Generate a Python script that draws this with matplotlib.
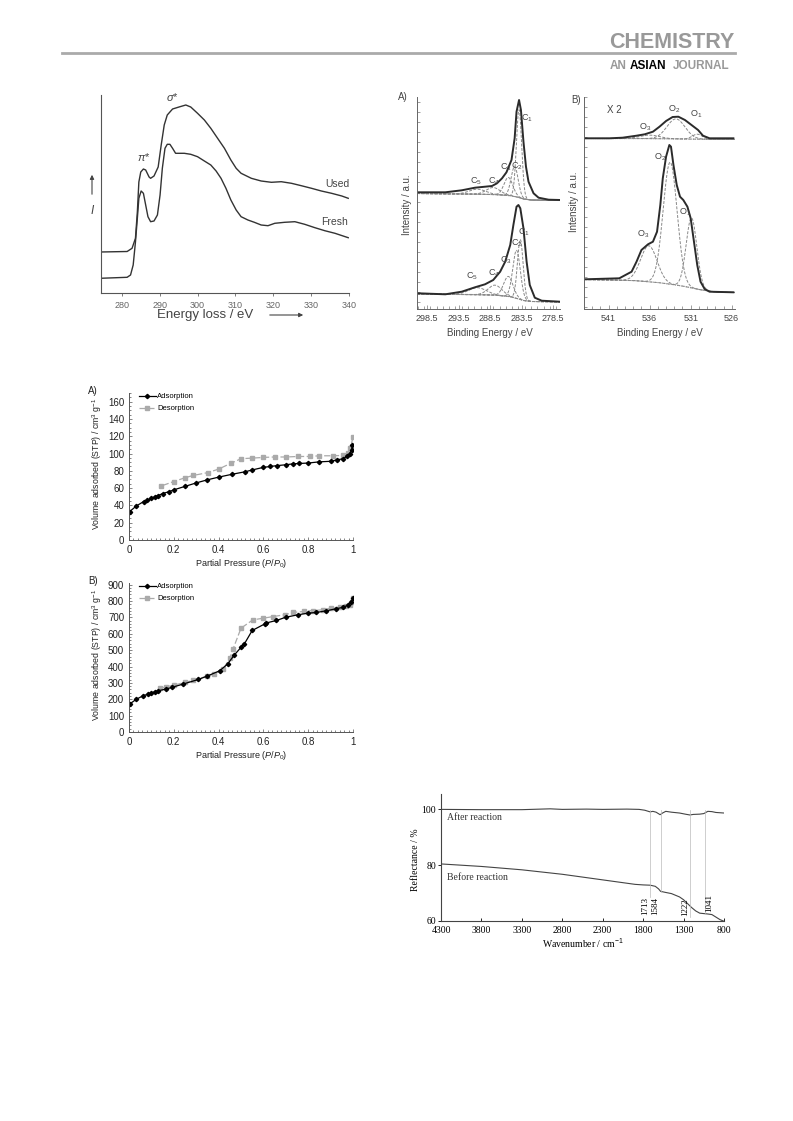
import numpy as np
import matplotlib.pyplot as plt
from matplotlib.ticker import MultipleLocator, FixedLocator

W, H = 793, 1121
SANS = ["Liberation Sans", "DejaVu Sans"]
SERIF = ["Liberation Serif", "DejaVu Serif"]
plt.rcParams["font.family"] = SANS
plt.rcParams["mathtext.fontset"] = "custom"
plt.rcParams["mathtext.rm"] = "Liberation Sans"
plt.rcParams["mathtext.it"] = "Liberation Sans:italic"

TXT = "#444444"
LINE = "#333333"

# ---- EELS (energy loss, eV / intensity a.u.) ----
eels_used_e = [274.3, 281.4, 282.7, 283.6, 284.1, 284.5, 285.0, 285.7, 286.3, 287.2, 287.6, 288.5,
               289.6, 290.4, 291.2, 292.0, 293.4, 295.1, 296.9, 298.2, 300.0, 301.8, 303.5, 305.3,
               307.1, 308.8, 310.2, 311.5, 314.2, 316.8, 319.5, 322.1, 324.8, 327.4, 330.1, 332.7,
               335.4, 338.1, 339.8]
eels_used = [41, 41.5, 44.7, 54.7, 81, 111, 121, 124, 123, 116, 114.7, 117,
             126, 148, 168, 178, 184, 186, 188, 186, 179.7, 173, 164.7, 154.7,
             144.7, 133, 124.7, 119.7, 114.7, 112, 110.7, 111.3, 109.7, 107.3, 104.7, 102,
             99.7, 97, 94.7]
eels_fresh_e = [274.3, 281.4, 282.3, 283.0, 283.6, 284.1, 284.5, 285.1, 285.7, 286.3, 286.9, 287.6,
                288.5, 289.4, 290.1, 290.7, 291.4, 292.0, 292.7, 293.4, 294.2, 296.5, 298.2, 300.0,
                301.8, 303.5, 304.9, 306.2, 307.5, 308.8, 310.2, 311.5, 313.3, 315.0, 316.8, 318.6,
                320.4, 323.0, 325.7, 328.3, 331.0, 333.6, 336.3, 339.8]
eels_fresh = [14.7, 15.7, 18, 28, 51, 74.7, 94.7, 102, 99.7, 88, 76.3, 71.3,
              72, 78, 98, 124.7, 144.7, 148.7, 148.7, 144.7, 139.7, 139.7, 138.7, 136.3,
              132, 128, 122, 114.7, 104.7, 93, 83, 76.3, 73, 70.7, 68, 67.3,
              69.7, 70.7, 71.3, 68.7, 65.3, 62.3, 59.7, 55.3]

# ---- XPS C1s ----
c_env_top_x = [300.1, 295.6, 293.0, 290.9, 289.3, 288.2, 287.4, 286.6, 285.9, 285.1, 284.6, 284.3,
               283.9, 283.6, 283.2, 282.8, 282.4, 281.6, 280.8, 279.2, 277.4]
c_env_top = [109.7, 109.7, 111.7, 114.3, 115.3, 116, 118.7, 123.7, 129.7, 142, 163.7, 190.3,
             202, 192, 160.3, 135.3, 120.3, 108.7, 104.3, 102.3, 102]
c_env_bot_x = [299.9, 295.6, 293.0, 290.9, 289.3, 288.0, 286.9, 286.1, 285.3, 284.8, 284.3, 284.0,
               283.7, 283.2, 282.7, 282.2, 281.4, 280.3, 277.4]
c_env_bot = [8.7, 7.7, 10.3, 14.7, 17.7, 22, 30.3, 40.3, 57, 77, 95.3, 97,
             93.7, 73.7, 40.3, 17, 4.3, 1.3, 0.3]
c_bg_x = [300.1, 292.0, 288.0, 285.5, 284.2, 283.2, 282.0, 277.4]
c_bg_top = [108.5, 108, 107.5, 106.5, 105, 103, 102, 101.5]
c_bg_bot = [8, 7.5, 7, 5.5, 3.5, 1.5, 0.5, 0.2]
# fitted components: centre (eV), height, sigma
c_top_centres = [283.9, 284.6, 285.6, 288.0, 290.5]
c_top_heights = [88, 30, 18, 7, 5]
c_top_sigmas = [0.42, 0.55, 0.7, 1.1, 1.3]
c_bot_centres = [283.7, 284.3, 285.6, 287.7, 290.5]
c_bot_heights = [60, 48, 20, 10, 7]
c_bot_sigmas = [0.45, 0.6, 0.75, 1.1, 1.4]
c_labels = ["C$_1$", "C$_2$", "C$_3$", "C$_4$", "C$_5$"]
c_top_lab = [(282.7, 184), (284.3, 136), (286.0, 135), (287.9, 121), (290.7, 121)]
c_bot_lab = [(283.1, 70), (284.3, 59), (286.0, 42), (287.8, 29), (291.3, 26)]

# ---- XPS O1s ----
o_env_top_x = [543.9, 540.9, 539.3, 537.6, 536.6, 535.6, 534.8, 534.0, 533.2, 532.5, 531.7, 530.9,
               530.1, 529.5, 528.7, 525.8]
o_env_top = [168.7, 168.7, 169.3, 171.3, 172.7, 175.3, 180.3, 186, 190, 190.3, 187, 182,
             177, 171.3, 168.7, 168.7]
o_env_bot_x = [543.9, 539.7, 538.2, 537.6, 537.0, 536.2, 535.6, 535.1, 534.7, 534.4, 534.0, 533.6,
               533.4, 533.1, 532.7, 532.3, 531.9, 531.4, 531.0, 530.6, 530.2, 529.8, 529.3, 528.7,
               525.8]
o_env_bot = [27.7, 28.7, 35.3, 45.3, 57, 62.7, 65.3, 75.3, 102, 128.7, 150.3, 162,
             160.3, 142, 122, 110.3, 107, 100.3, 88.7, 65.3, 42, 25.3, 18, 15.3,
             14.7]
o_bg_x = [544.0, 538.0, 535.0, 532.0, 530.0, 528.0, 525.6]
o_bg_top = [168.5, 168.5, 168.3, 168, 167.8, 167.7, 167.7]
o_bg_bot = [27.5, 26.5, 24.5, 21, 17.5, 15, 14.5]
o_top_centres = [536.0, 532.8, 530.2]
o_top_heights = [3.5, 20, 5]
o_top_sigmas = [1.2, 1.1, 0.6]
o_bot_centres = [536.1, 533.5, 530.9]
o_bot_heights = [36, 122, 70]
o_bot_sigmas = [1.0, 0.85, 0.65]
o_labels = ["O$_3$", "O$_2$", "O$_1$"]
o_top_lab = [(536.5, 180), (533.0, 198), (530.3, 193)]
o_bot_lab = [(536.8, 73), (534.7, 150), (531.7, 95)]

# ---- N2 isotherms ----
isoA_ads_p = [0.003, 0.033, 0.065, 0.08, 0.10, 0.115, 0.13, 0.15, 0.18, 0.20, 0.25, 0.30, 0.35,
              0.40, 0.46, 0.52, 0.55, 0.60, 0.63, 0.66, 0.70, 0.73, 0.76, 0.80, 0.85, 0.90, 0.93,
              0.955, 0.973, 0.985, 0.994, 0.997]
isoA_ads_v = [32.9, 39.4, 44.4, 46, 48, 50, 51.4, 53.7, 56, 58, 62, 66, 69.6,
              72.7, 76, 79, 81, 84, 85, 86, 87, 88, 88.5, 89, 90.4, 91, 92.7,
              94, 96.6, 99.7, 104, 110]
isoA_des_p = [1.0, 0.988, 0.978, 0.955, 0.91, 0.85, 0.81, 0.755, 0.70, 0.65, 0.60, 0.55, 0.50,
              0.457, 0.40, 0.353, 0.286, 0.25, 0.20, 0.145]
isoA_des_v = [119, 106, 100.5, 97.8, 97.4, 97.4, 96.6, 96.6, 96, 96, 95.5, 94.7, 94,
              89, 82, 78, 74.6, 72, 67.6, 62.6]
isoB_ads_p = [0.006, 0.033, 0.062, 0.085, 0.10, 0.115, 0.13, 0.165, 0.19, 0.24, 0.31, 0.35, 0.405,
              0.44, 0.47, 0.50, 0.515, 0.55, 0.606, 0.61, 0.658, 0.70, 0.755, 0.80, 0.836, 0.88,
              0.925, 0.955, 0.978, 0.993, 1.0]
isoB_ads_v = [174, 200, 221, 231, 239, 245, 252, 262, 272, 292, 321, 342, 374,
              415, 470, 517, 538, 620, 660, 665, 681, 701, 716, 726, 730, 740,
              753, 761, 775, 797, 818]
isoB_des_p = [1.0, 0.997, 0.985, 0.97, 0.94, 0.90, 0.866, 0.82, 0.78, 0.73, 0.695, 0.643, 0.60,
              0.553, 0.50, 0.464, 0.45, 0.42, 0.38, 0.35, 0.286, 0.25, 0.20, 0.167, 0.137]
isoB_des_v = [818, 791, 775, 767, 763, 757, 746, 742, 736, 730, 716, 705, 695,
              685, 634, 505, 450, 382, 354, 342, 315, 303, 286, 276, 266]

# ---- IR reflectance ----
ir_after_wn = [4300, 3800, 3300, 2950, 2800, 2500, 2300, 2000, 1850, 1780, 1713, 1680, 1640, 1590,
               1560, 1520, 1450, 1350, 1280, 1222, 1180, 1100, 1050, 1000, 950, 900, 850, 800]
ir_after = [99.9, 99.8, 99.8, 100.1, 99.9, 100.0, 99.9, 100.0, 99.9, 99.6, 99.0, 99.2, 98.9, 98.0,
            98.6, 99.2, 98.9, 98.6, 98.2, 97.9, 98.1, 98.2, 98.4, 99.2, 99.1, 98.8, 98.7, 98.6]
ir_before_wn = [4300, 3800, 3300, 2800, 2300, 1900, 1800, 1713, 1650, 1610, 1584, 1520, 1450, 1350,
                1300, 1250, 1200, 1150, 1100, 1000, 950, 900, 850, 800]
ir_before = [80.4, 79.5, 78.3, 76.7, 74.7, 73.1, 72.9, 72.8, 72.4, 71.5, 70.6, 70.2, 69.8, 68.6,
             67.6, 66.2, 64.8, 63.6, 62.8, 62.5, 62.3, 61.4, 60.5, 59.9]
ir_marks = [1713, 1584, 1222, 1041]
ir_mark_bottom = [68.5, 70.5, 61.5, 63.0]

fig = plt.figure(figsize=(W / 100, H / 100), dpi=100)


def panel(l, t, r, b):
    return fig.add_axes([l / W, 1 - b / H, (r - l) / W, (b - t) / H])


def ftext(x, y, s, **kw):
    fig.text(x / W, 1 - y / H, s, **kw)


def gauss(x, c, h, s):
    return h * np.exp(-0.5 * ((x - c) / s) ** 2)


# ---- header ----
fig.add_artist(plt.Line2D([62 / W, 735 / W], [1 - 53 / H, 1 - 53 / H], color="#aaaaaa", lw=2))
ftext(734, 43, "CHEMISTRY", ha="right", va="center", fontsize=15.5, fontweight="bold", color="#999999")
ftext(610, 66, "AN", ha="left", va="center", fontsize=8.5, fontweight="bold", color="#999999")
ftext(630, 66, "ASIAN", ha="left", va="center", fontsize=8.5, fontweight="bold", color="black")
ftext(673, 66, "JOURNAL", ha="left", va="center", fontsize=8.5, fontweight="bold", color="#999999")

# ---- EELS panel ----
ax1 = panel(101, 95, 349, 293)
ax1.plot(eels_used_e, eels_used, color=LINE, lw=1.0)
ax1.plot(eels_fresh_e, eels_fresh, color=LINE, lw=1.0)
ax1.set_xlim(274.5, 340)
ax1.set_ylim(0, 198)
ax1.set_yticks([])
ax1.set_xticks(np.arange(280, 341, 10))
ax1.tick_params(axis="x", labelsize=6.5, labelcolor="#666666", length=2, color="#666666", width=0.6)
for s in ["top", "right"]:
    ax1.spines[s].set_visible(False)
for s in ["left", "bottom"]:
    ax1.spines[s].set_color("#555555")
    ax1.spines[s].set_linewidth(0.8)
ax1.text(285.8, 136, r"$\pi$*", ha="center", va="center", fontsize=8, color=TXT)
ax1.text(293.3, 196, r"$\sigma$*", ha="center", va="center", fontsize=8, color=TXT)
ax1.text(336.8, 109, "Used", ha="center", va="center", fontsize=7.5, color=TXT)
ax1.text(336.3, 71, "Fresh", ha="center", va="center", fontsize=7.5, color=TXT)
ftext(205, 315, "Energy loss / eV", ha="center", va="center", fontsize=9.5, color=TXT)
fig.add_artist(plt.matplotlib.patches.FancyArrowPatch((267 / W, 1 - 315 / H), (306 / W, 1 - 315 / H),
                                                       transform=fig.transFigure, arrowstyle="-|>",
                                                       mutation_scale=6, color=TXT, lw=0.8))
fig.add_artist(plt.matplotlib.patches.FancyArrowPatch((92 / W, 1 - 197 / H), (92 / W, 1 - 172 / H),
                                                       transform=fig.transFigure, arrowstyle="-|>",
                                                       mutation_scale=6, color=TXT, lw=0.8))
ftext(92, 211, "I", ha="center", va="center", fontsize=8.5, style="italic", color=TXT)


def xps_axes(ax):
    for s in ["top", "right"]:
        ax.spines[s].set_visible(False)
    for s in ["left", "bottom"]:
        ax.spines[s].set_color("#666666")
        ax.spines[s].set_linewidth(0.7)
    ax.tick_params(which="both", direction="in", color="#777777", width=0.5)
    ax.tick_params(axis="x", which="major", length=3, labelsize=6.5, labelcolor=TXT)
    ax.tick_params(axis="x", which="minor", length=2)
    ax.tick_params(axis="y", which="major", length=2, labelleft=False)


# ---- XPS C1s panel ----
ax2 = panel(417, 97, 560, 309)
cx = np.linspace(300.1, 277.4, 400)
for env_x, env, bg, cen, hei, sig in [
        (c_env_top_x, c_env_top, c_bg_top, c_top_centres, c_top_heights, c_top_sigmas),
        (c_env_bot_x, c_env_bot, c_bg_bot, c_bot_centres, c_bot_heights, c_bot_sigmas)]:
    base = np.interp(cx, c_bg_x[::-1], bg[::-1])
    ax2.plot(cx, base, color="#999999", lw=0.8, ls=(0, (1, 1)))
    for c, h, s in zip(cen, hei, sig):
        ax2.plot(cx, base + gauss(cx, c, h, s), color="#888888", lw=0.7, ls=(0, (3, 1.5)))
    ax2.plot(env_x, env, color="#2b2b2b", lw=1.4)
for lab, (x, y) in zip(c_labels, c_top_lab):
    ax2.text(x, y, lab, fontsize=6.5, ha="center", va="center", color=TXT)
for lab, (x, y) in zip(c_labels, c_bot_lab):
    ax2.text(x, y, lab, fontsize=6.5, ha="center", va="center", color=TXT)
ax2.set_xlim(300.1, 277.4)
ax2.set_ylim(-7, 205)
ax2.xaxis.set_major_locator(FixedLocator([298.5, 293.5, 288.5, 283.5, 278.5]))
ax2.xaxis.set_minor_locator(MultipleLocator(1))
ax2.yaxis.set_major_locator(MultipleLocator(10))
xps_axes(ax2)
ax2.set_xticklabels(["298.5", "293.5", "288.5", "283.5", "278.5"])
ftext(403, 97, "A)", ha="center", va="center", fontsize=7, color=TXT)
ftext(407, 205, "Intensity / a.u.", ha="center", va="center", rotation=90, fontsize=7, color=TXT)
ftext(490, 333, "Binding Energy / eV", ha="center", va="center", fontsize=7, color=TXT)

# ---- XPS O1s panel ----
ax3 = panel(584, 97, 735, 309)
ox = np.linspace(544, 525.6, 400)
for env_x, env, bg, cen, hei, sig in [
        (o_env_top_x, o_env_top, o_bg_top, o_top_centres, o_top_heights, o_top_sigmas),
        (o_env_bot_x, o_env_bot, o_bg_bot, o_bot_centres, o_bot_heights, o_bot_sigmas)]:
    base = np.interp(ox, o_bg_x[::-1], bg[::-1])
    ax3.plot(ox, base, color="#999999", lw=0.8, ls=(0, (1, 1)))
    for c, h, s in zip(cen, hei, sig):
        ax3.plot(ox, base + gauss(ox, c, h, s), color="#888888", lw=0.7, ls=(0, (3, 1.5)))
    ax3.plot(env_x, env, color="#2b2b2b", lw=1.4)
for lab, (x, y) in zip(o_labels, o_top_lab):
    ax3.text(x, y, lab, fontsize=6.5, ha="center", va="center", color=TXT)
for lab, (x, y) in zip(o_labels, o_bot_lab):
    ax3.text(x, y, lab, fontsize=6.5, ha="center", va="center", color=TXT)
ax3.text(540.3, 197, "X 2", fontsize=7, ha="center", va="center", color=TXT)
ax3.set_xlim(544, 525.6)
ax3.set_ylim(-2, 210)
ax3.xaxis.set_major_locator(FixedLocator([541, 536, 531, 526]))
ax3.xaxis.set_minor_locator(MultipleLocator(1))
ax3.yaxis.set_major_locator(MultipleLocator(10))
xps_axes(ax3)
ftext(576, 100, "B)", ha="center", va="center", fontsize=7, color=TXT)
ftext(574, 202, "Intensity / a.u.", ha="center", va="center", rotation=90, fontsize=7, color=TXT)
ftext(660, 333, "Binding Energy / eV", ha="center", va="center", fontsize=7, color=TXT)


# ---- isotherms ----
def iso_axes(ax, ymax, major, minor):
    ax.set_xlim(0, 1)
    ax.set_ylim(0, ymax)
    ax.xaxis.set_major_locator(MultipleLocator(0.2))
    ax.xaxis.set_minor_locator(MultipleLocator(0.02))
    ax.yaxis.set_major_locator(MultipleLocator(major))
    ax.yaxis.set_minor_locator(MultipleLocator(minor))
    for s in ["top", "right"]:
        ax.spines[s].set_visible(False)
    for s in ["left", "bottom"]:
        ax.spines[s].set_color("#555555")
        ax.spines[s].set_linewidth(0.7)
    ax.tick_params(which="both", direction="in", color="#555555", width=0.5, labelsize=7, labelcolor="#222222")
    ax.tick_params(which="major", length=2.5)
    ax.tick_params(which="minor", length=1.5)
    ax.set_xticks([0, 0.2, 0.4, 0.6, 0.8, 1.0])
    ax.set_xticklabels(["0", "0.2", "0.4", "0.6", "0.8", "1"])


for (top, bot, ads_p, ads_v, des_p, des_v, ymax, major, minor, tag) in [
        (393, 540, isoA_ads_p, isoA_ads_v, isoA_des_p, isoA_des_v, 170, 20, 5, "A)"),
        (583, 732, isoB_ads_p, isoB_ads_v, isoB_des_p, isoB_des_v, 910, 100, 20, "B)")]:
    ax = panel(129, top, 353, bot)
    ax.plot(des_p, des_v, color="#aaaaaa", lw=0.9, ls=(0, (5, 2)), marker="s", ms=2.3,
            mfc="#aaaaaa", mec="#aaaaaa", label="Desorption")
    ax.plot(ads_p, ads_v, color="black", lw=0.9, marker="D", ms=2.2, label="Adsorption")
    iso_axes(ax, ymax, major, minor)
    h, l = ax.get_legend_handles_labels()
    ax.legend(h[::-1], l[::-1], loc="upper left", bbox_to_anchor=(0.03, 1.02), frameon=False,
              fontsize=5.5, handlelength=2.2, handletextpad=0.2, labelspacing=0.6, borderaxespad=0)
    ftext(93, top - 2, tag, ha="center", va="center", fontsize=7, color="#222222")
    ftext(97, (top + bot) / 2 - 3, "Volume adsorbed (STP) / cm$^3$ g$^{-1}$", ha="center", va="center",
          rotation=90, fontsize=6.3, color="#222222")
    ftext(241, bot + 23, "Partial Pressure ($P$/$P_0$)", ha="center", va="center", fontsize=6.5,
          color="#222222")

# ---- IR panel ----
ax6 = panel(441, 794, 724, 921)
ax6.plot(ir_after_wn, ir_after, color="#444444", lw=0.8)
ax6.plot(ir_before_wn, ir_before, color="#444444", lw=0.8)
for wn, yb in zip(ir_marks, ir_mark_bottom):
    ax6.plot([wn, wn], [yb, 99.8], color="#bbbbbb", lw=0.5)
ax6.set_xlim(4300, 800)
ax6.set_ylim(60, 105.4)
ax6.set_xticks(np.arange(4300, 799, -500))
ax6.set_yticks([60, 80, 100])
for s in ["top", "right"]:
    ax6.spines[s].set_visible(False)
for s in ["left", "bottom"]:
    ax6.spines[s].set_color("#444444")
    ax6.spines[s].set_linewidth(0.8)
ax6.tick_params(axis="y", direction="out", length=2.5, width=0.6, labelsize=7, pad=1)
ax6.tick_params(axis="x", direction="in", length=2.5, width=0.6, labelsize=7, pad=3.5)
for lab in ax6.get_xticklabels() + ax6.get_yticklabels():
    lab.set_family(SERIF)
ax6.text(4230, 96.9, "After reaction", family=SERIF, fontsize=7, va="center", ha="left", color="#333333")
ax6.text(4230, 75.6, "Before reaction", family=SERIF, fontsize=7, va="center", ha="left", color="#333333")
ax6.text(1725, 65.3, "1713", family=SERIF, fontsize=6.5, rotation=90, ha="right", va="center")
ax6.text(1596, 65.3, "1584", family=SERIF, fontsize=6.5, rotation=90, ha="right", va="center")
ax6.text(1234, 64.8, "1222", family=SERIF, fontsize=6.5, rotation=90, ha="right", va="center")
ax6.text(1030, 66.6, "1041", family=SERIF, fontsize=6.5, rotation=90, ha="left", va="center")
ftext(415, 860, "Reflectance / %", family=SERIF, rotation=90, ha="center", va="center", fontsize=7)
ftext(583, 943, "Wavenumber / cm$^{-1}$", family=SERIF, ha="center", va="center", fontsize=7)

fig.savefig("out.png", dpi=100)
